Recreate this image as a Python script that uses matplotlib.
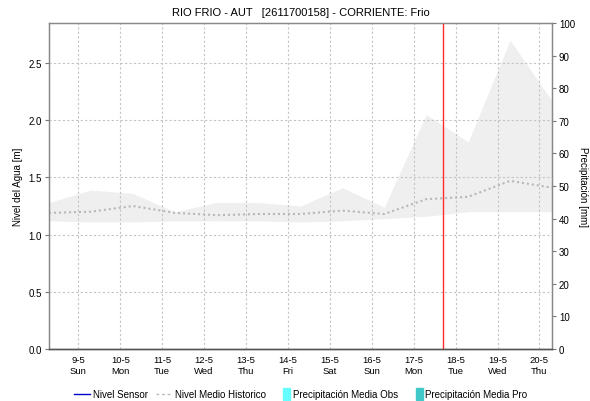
import numpy as np
import matplotlib
matplotlib.use("Agg")
import matplotlib.pyplot as plt
from matplotlib.patches import Rectangle
from matplotlib.lines import Line2D
from matplotlib.legend_handler import HandlerPatch

plt.rcParams['font.family'] = ['Liberation Sans', 'DejaVu Sans']

# dias de mayo (07:00 de cada dia)
dias = [8.3, 9.3, 10.3, 11.3, 12.3, 13.3, 14.3, 15.3, 16.3, 17.3, 18.3, 19.3, 20.3]
hist_max = [1.28, 1.39, 1.36, 1.20, 1.28, 1.28, 1.25, 1.41, 1.24, 2.05, 1.81, 2.70, 2.17]
hist_min = [1.12, 1.11, 1.11, 1.12, 1.12, 1.12, 1.11, 1.12, 1.14, 1.16, 1.20, 1.20, 1.20]
hist_medio = [1.19, 1.20, 1.25, 1.19, 1.17, 1.18, 1.18, 1.21, 1.18, 1.31, 1.33, 1.47, 1.41]

# sin datos de sensor ni precipitacion en el periodo
nivel_sensor_t = []
nivel_sensor = []

ticks_dia = [9, 10, 11, 12, 13, 14, 15, 16, 17, 18, 19, 20]
etiquetas = ['9-5\nSun', '10-5\nMon', '11-5\nTue', '12-5\nWed', '13-5\nThu', '14-5\nFri',
             '15-5\nSat', '16-5\nSun', '17-5\nMon', '18-5\nTue', '19-5\nWed', '20-5\nThu']
ahora = 17.71

fig = plt.figure(figsize=(5.9, 4.02), dpi=100)
ax = fig.add_axes([0.083, 0.1294, 0.8526, 0.8109])
ax2 = ax.twinx()

ax.fill_between(dias, hist_min, hist_max, color='#efefef', lw=0, zorder=1)
ax.plot(dias, hist_medio, color='#b8b8b8', lw=1.5, ls=(0, (1, 1.4)), zorder=3)
ax.plot(nivel_sensor_t, nivel_sensor, color='#0000cc', lw=1)
ax.axvline(ahora, color='#ff2a2a', lw=1, zorder=4)

ax.set_xlim(8.3, 20.3)
ax.set_ylim(0, 2.85)
ax.set_yticks([0, 0.5, 1.0, 1.5, 2.0, 2.5])
ax.set_yticklabels(['0.0', '0.5', '1.0', '1.5', '2.0', '2.5'])
ax.set_xticks(ticks_dia)
ax.set_xticklabels(etiquetas, fontsize=6.8, linespacing=1.35)
ax.tick_params(axis='x', length=0, pad=4)
ax.tick_params(axis='y', length=3, width=0.8, color='#777777', labelsize=7, pad=2)
ax.grid(True, color='#c4c4c4', lw=0.8, ls=(0, (2, 2)))

ax2.set_ylim(0, 100)
ax2.set_yticks(range(0, 101, 10))
ax2.tick_params(axis='y', length=3, width=0.8, color='#777777', labelsize=7, pad=2)

for a in (ax, ax2):
    for s in ('left', 'right', 'top'):
        a.spines[s].set_color('#888888')
        a.spines[s].set_linewidth(0.9)
    a.spines['bottom'].set_color('#555555')
    a.spines['bottom'].set_linestyle((0, (1, 1)))
    a.spines['bottom'].set_linewidth(1.0)

ax.set_ylabel('Nivel del Agua [m]', fontsize=7, va='center')
ax.yaxis.set_label_coords(-0.062, 0.5)
ax2.set_ylabel('Precipitación [mm]', fontsize=7, rotation=-90, va='center')
ax2.yaxis.set_label_coords(1.062, 0.5)
ax.set_title('RIO FRIO - AUT   [2611700158] - CORRIENTE: Frio', fontsize=8, pad=6)


def barra_fina(legend, orig_handle, xdescent, ydescent, width, height, fontsize):
    return Rectangle((width - 5 - xdescent, -ydescent - 2), 5, height + 4)


handles = [
    Line2D([], [], color='#0000cc', lw=1),
    Line2D([], [], color='#bbbbbb', lw=1, ls=(0, (2, 2))),
    Rectangle((0, 0), 1, 1, color='#66ffff'),
    Rectangle((0, 0), 1, 1, color='#40c8c8'),
]
labels = ['Nivel Sensor', 'Nivel Medio Historico', 'Precipitación Media Obs', 'Precipitación Media Pro']
fig.legend(handles, labels, loc='center', bbox_to_anchor=(0.51, 0.017), ncol=4, frameon=False,
           fontsize=7, handlelength=1.6, handletextpad=0.3, columnspacing=0.9,
           handler_map={Rectangle: HandlerPatch(patch_func=barra_fina)})

fig.savefig('out.png', dpi=100)
